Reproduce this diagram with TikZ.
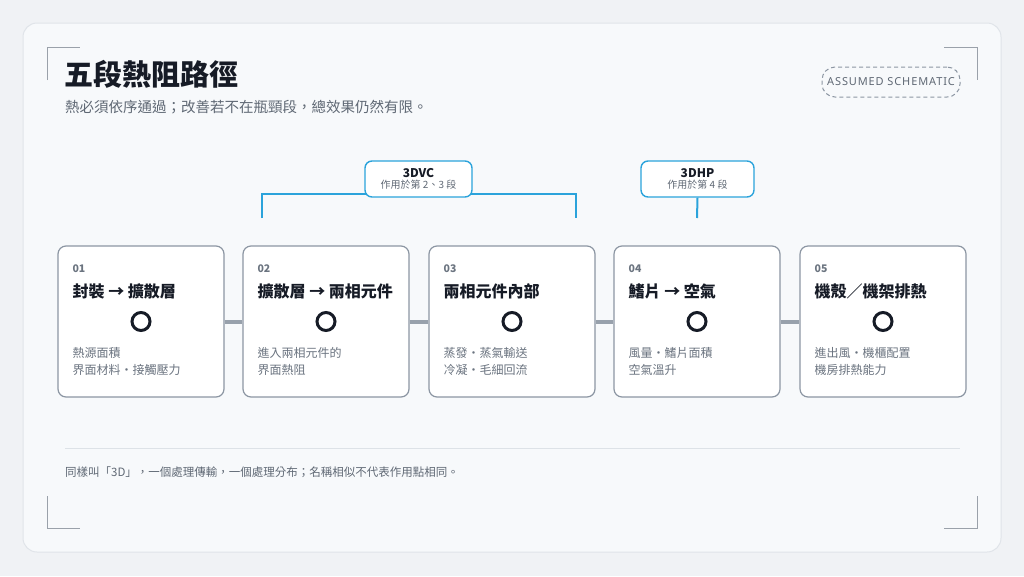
\documentclass[tikz,border=0pt]{standalone}
\usepackage{fontspec}
\setmainfont{Noto Sans CJK TC}
\newfontfamily\tagfont[LetterSpace=8]{Noto Sans}

\definecolor{pagebg}{HTML}{F0F2F5}
\definecolor{panelbg}{HTML}{F7F9FB}
\definecolor{panelline}{HTML}{E0E4E9}
\definecolor{cornergray}{HTML}{9AA1AA}
\definecolor{inkdark}{HTML}{161B26}
\definecolor{inkgray}{HTML}{5F6874}
\definecolor{descgray}{HTML}{6A737F}
\definecolor{numgray}{HTML}{6B7480}
\definecolor{boxgray}{HTML}{8C96A3}
\definecolor{linkgray}{HTML}{98A1AC}
\definecolor{techblue}{HTML}{2BA3DB}
\definecolor{rulegray}{HTML}{DDE2E7}

\tikzset{
	stagebox/.style={draw=boxgray,line width=1.2pt,fill=white,rounded corners=8pt,
		minimum width=166pt,minimum height=151pt,inner sep=0pt},
	stagenum/.style={anchor=west,inner sep=0pt,text=numgray,font=\fontsize{10.5}{12}\selectfont\bfseries},
	stagetitle/.style={anchor=west,inner sep=0pt,text=inkdark,font=\fontsize{16}{19}\selectfont\bfseries},
	stagedesc/.style={anchor=west,inner sep=0pt,align=left,text=descgray,font=\fontsize{12}{17}\selectfont},
	stagering/.style={circle,draw=inkdark,line width=3pt,minimum size=18pt,inner sep=0pt},
	link/.style={draw=linkgray,line width=4pt},
	techbox/.style={draw=techblue,line width=1.4pt,fill=white,rounded corners=7pt,
		minimum height=36pt,inner sep=0pt,align=center},
	techline/.style={draw=techblue,line width=2pt},
	corner/.style={draw=cornergray,line width=1pt},
	tagpill/.style={draw=boxgray,dash pattern=on 4pt off 3pt,line width=1pt,rounded corners=13pt,
		minimum width=138pt,minimum height=30pt,inner sep=0pt,text=inkgray}
}

\newcommand{\stagecard}[6]{%
	\node[stagebox] (#1) at (#2,321.5) {};
	\node[stagenum] (#1num) at ([shift={(15,23)}]#1.north west) {#3};
	\node[stagetitle] (#1title) at ([shift={(15,46)}]#1.north west) {#4};
	\node[stagering] (#1ring) at (#1.center) {};
	\node[stagedesc] (#1desc) at ([shift={(15,116.5)}]#1.north west) {#5\\#6};
}

\begin{document}
\begin{tikzpicture}[x=1pt,y=-1pt]
\useasboundingbox (0,0) rectangle (1024,576);
\fill[pagebg] (0,0) rectangle (1024,576);
\draw[panelline,fill=panelbg,line width=1pt,rounded corners=14pt] (23,23) rectangle (1001,552);

\draw[corner] (47,80) -- (47,47) -- (80,47);
\draw[corner] (944,47) -- (977,47) -- (977,80);
\draw[corner] (47,496) -- (47,528) -- (80,528);
\draw[corner] (944,528) -- (977,528) -- (977,496);

\node[anchor=west,inner sep=0pt,text=inkdark,font=\fontsize{29}{34}\selectfont\bfseries] (title) at (64,74) {五段熱阻路徑};
\node[anchor=west,inner sep=0pt,text=inkgray,font=\fontsize{14.5}{17}\selectfont] (subtitle) at (65,107) {熱必須依序通過；改善若不在瓶頸段，總效果仍然有限。};
\node[tagpill] (tag) at (891,82) {\fontsize{11}{13}\tagfont ASSUMED SCHEMATIC};

\stagecard{s1}{141}{01}{封裝 → 擴散層}{熱源面積}{界面材料・接觸壓力}
\stagecard{s2}{326}{02}{擴散層 → 兩相元件}{進入兩相元件的}{界面熱阻}
\stagecard{s3}{512}{03}{兩相元件內部}{蒸發・蒸氣輸送}{冷凝・毛細回流}
\stagecard{s4}{697}{04}{鰭片 → 空氣}{風量・鰭片面積}{空氣溫升}
\stagecard{s5}{883}{05}{機殼／機架排熱}{進出風・機櫃配置}{機房排熱能力}

\draw[link] (s1.east) -- (s2.west);
\draw[link] (s2.east) -- (s3.west);
\draw[link] (s3.east) -- (s4.west);
\draw[link] (s4.east) -- (s5.west);

\coordinate (vcL) at (262,218);
\coordinate (vcR) at (576,218);
\coordinate (hpE) at (697,218);
\draw[techline] (vcL) -- (262,194) -- (576,194) -- (vcR);
\node[techbox,minimum width=107pt] (vc) at (418.5,179) {{\fontsize{12}{14}\selectfont\bfseries\color{inkdark}3DVC}\\[-1pt]{\fontsize{10}{12}\selectfont\color{inkgray}作用於第 2、3 段}};
\node[techbox,minimum width=113pt] (hp) at (697.5,179) {{\fontsize{12}{14}\selectfont\bfseries\color{inkdark}3DHP}\\[-1pt]{\fontsize{10}{12}\selectfont\color{inkgray}作用於第 4 段}};
\draw[techline] (hp.south) -- (hpE);

\draw[rulegray,line width=1pt] (65,448) -- (960,448);
\node[anchor=west,inner sep=0pt,text=inkgray,font=\fontsize{11.5}{14}\selectfont] (note) at (65,472) {同樣叫「3D」，一個處理傳輸，一個處理分布；名稱相似不代表作用點相同。};
\end{tikzpicture}
\end{document}
